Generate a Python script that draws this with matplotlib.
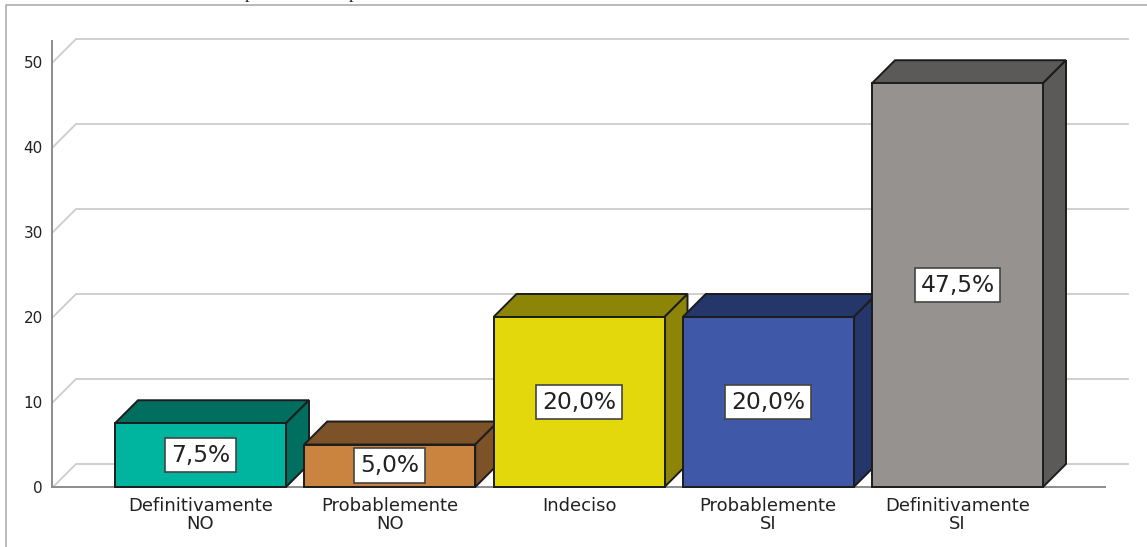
import matplotlib
matplotlib.use("Agg")
import matplotlib.pyplot as plt
from matplotlib.lines import Line2D
from matplotlib.patches import Polygon, Rectangle

categories = ["Definitivamente\nNO", "Probablemente\nNO", "Indeciso", "Probablemente\nSI", "Definitivamente\nSI"]
values = [7.5, 5.0, 20.0, 20.0, 47.5]
value_labels = ["7,5%", "5,0%", "20,0%", "20,0%", "47,5%"]
front_colors = ["#00b5a0", "#cb843f", "#e3d80c", "#3f59a8", "#959290"]
side_colors = ["#006f60", "#7d5228", "#8c8508", "#25376a", "#5b5a58"]
y_ticks = [0, 10, 20, 30, 40, 50]

W, H = 1147, 547
PX_X = 189.25  # pixels per category
PX_Y = 8.5  # pixels per percent
LEFT, RIGHT, TOP, BASE = 52, 1128, 39, 487
FIRST_CENTER = 200.5
BAR_W = 171 / PX_X
DX = 23 / PX_X
DY = 23 / PX_Y
EDGE = "#1c1c1c"


def main():
    fig = plt.figure(figsize=(W / 100, H / 100), dpi=100)
    ax = fig.add_axes([LEFT / W, 1 - BASE / H, (RIGHT - LEFT) / W, (BASE - TOP) / H])
    ax.set_xlim((LEFT - FIRST_CENTER) / PX_X, (RIGHT - FIRST_CENTER) / PX_X)
    ax.set_ylim(0, (BASE - TOP) / PX_Y)
    ax.patch.set_visible(False)

    # outer frame of the screenshot, plus the two descenders left of the cut-off caption
    fig.add_artist(Line2D([6 / W, 6 / W, 1], [0, 1 - 5 / H, 1 - 5 / H], color="#aeaeae", lw=1.2))
    for px in [249, 353]:
        fig.text(px / W, 1 + 2 / H, "p", family="Liberation Serif", fontsize=13, ha="center", va="baseline", color="#222222")

    for s in ["top", "right"]:
        ax.spines[s].set_visible(False)
    ax.spines["left"].set_color("#8c8c8c")
    ax.spines["left"].set_linewidth(1.4)
    ax.spines["left"].set_bounds(0, 52.5)
    ax.spines["bottom"].set_color("#8c8c8c")
    ax.spines["bottom"].set_linewidth(1.4)
    ax.spines["bottom"].set_bounds((LEFT - FIRST_CENTER) / PX_X, (1105 - FIRST_CENTER) / PX_X)

    # back wall gridlines with the short diagonal on the left
    x0 = (LEFT + 1 - FIRST_CENTER) / PX_X
    x1 = x0 + DX
    x2 = (RIGHT - FIRST_CENTER) / PX_X
    for t in y_ticks:
        ax.plot([x0, x1, x2], [t, t + DY, t + DY], color="#cccccc", lw=1.3, clip_on=False, zorder=1)

    ax.set_yticks(y_ticks)
    ax.tick_params(axis="y", length=0, pad=6.5, labelsize=11, labelcolor="#222222")
    ax.set_xticks(range(len(categories)))
    ax.set_xticklabels(categories, fontsize=13, color="#222222", linespacing=1.0)
    ax.tick_params(axis="x", length=0, pad=7)

    for i, v in enumerate(values):
        l = i - BAR_W / 2
        r = i + BAR_W / 2
        ax.add_patch(Polygon([(l, v), (r, v), (r + DX, v + DY), (l + DX, v + DY)], fc=side_colors[i], ec=EDGE, lw=1.4, zorder=3 + i, clip_on=False))
        ax.add_patch(Polygon([(r, 0), (r + DX, DY), (r + DX, v + DY), (r, v)], fc=side_colors[i], ec=EDGE, lw=1.4, zorder=3 + i, clip_on=False))
        ax.add_patch(Rectangle((l, 0), BAR_W, v, fc=front_colors[i], ec=EDGE, lw=1.4, zorder=3 + i, clip_on=False))
        ax.text(i, v / 2, value_labels[i], ha="center", va="center", fontsize=16.8, color="#222222", zorder=20,
                bbox=dict(boxstyle="square,pad=0.25", fc="white", ec="#444444", lw=1.2))

    fig.savefig("out.png", dpi=100)


if __name__ == "__main__":
    main()
